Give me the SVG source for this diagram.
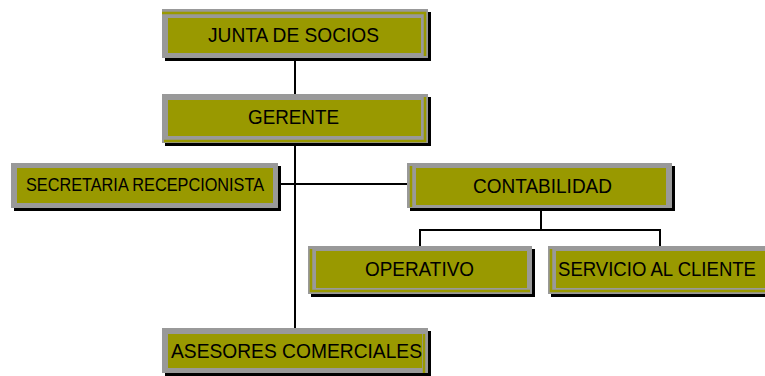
<svg xmlns="http://www.w3.org/2000/svg" width="765" height="376" viewBox="0 0 765 376">
<style>
.sh{fill:#000}
.g{fill:#999999}
.o{fill:#999900}
.ol{stroke:#999900;stroke-width:2.5;fill:none}
.t{font-family:"Liberation Sans",Arial,sans-serif;font-size:20px;fill:#000}
.c{stroke:#000;stroke-width:2;fill:none}
</style>
<rect width="765" height="376" fill="#fff"/>
<g id="connectors">
<line class="c" x1="295" y1="58" x2="295" y2="94"/>
<line class="c" x1="295" y1="143" x2="295" y2="328"/>
<line class="c" x1="280" y1="184" x2="407" y2="184"/>
<line class="c" x1="541" y1="211" x2="541" y2="230"/>
<line class="c" x1="420" y1="230" x2="660" y2="230"/>
<line class="c" x1="420" y1="229" x2="420" y2="246"/>
<line class="c" x1="660" y1="229" x2="660" y2="246"/>
</g>
<g id="junta">
<rect class="sh" x="165" y="12" width="266" height="49"/>
<rect class="g" x="162" y="9" width="266" height="49"/>
<polyline class="ol" points="162,13 425,13 425,56"/>
<rect class="o" x="168" y="18" width="253" height="35"/>
<text class="t" x="208" y="41.5" textLength="171" lengthAdjust="spacingAndGlyphs">JUNTA DE SOCIOS</text>
</g>
<g id="gerente">
<rect class="sh" x="165" y="97" width="266" height="49"/>
<rect class="g" x="162" y="94" width="266" height="49"/>
<polyline class="ol" points="425,97 425,141 164,141"/>
<rect class="o" x="168" y="100" width="253" height="36"/>
<text class="t" x="248" y="124" textLength="91" lengthAdjust="spacingAndGlyphs">GERENTE</text>
</g>
<g id="secretaria">
<rect class="sh" x="14" y="166" width="267" height="45"/>
<rect class="g" x="11" y="163" width="267" height="45"/>
<rect class="o" x="17" y="168" width="256" height="35"/>
<text class="t" x="26" y="190.5" style="font-size:19px" textLength="238" lengthAdjust="spacingAndGlyphs">SECRETARIA RECEPCIONISTA</text>
</g>
<g id="contabilidad">
<rect class="sh" x="410" y="166" width="265" height="45"/>
<rect class="g" x="407" y="163" width="265" height="45"/>
<polyline class="ol" points="411,166 411,207"/>
<rect class="o" x="416" y="168" width="250" height="37"/>
<text class="t" x="473" y="192.5" textLength="139" lengthAdjust="spacingAndGlyphs">CONTABILIDAD</text>
</g>
<g id="operativo">
<rect class="sh" x="311" y="249" width="224" height="48"/>
<rect class="g" x="308" y="246" width="224" height="48"/>
<polyline class="ol" points="311,249 311,291 530,291"/>
<rect class="o" x="316" y="251" width="211" height="37"/>
<text class="t" x="365" y="275.5" textLength="109" lengthAdjust="spacingAndGlyphs">OPERATIVO</text>
</g>
<g id="servicio">
<rect class="sh" x="551" y="249" width="224" height="48"/>
<rect class="g" x="548" y="246" width="224" height="48"/>
<polyline class="ol" points="551,249 551,291 770,291"/>
<rect class="o" x="556" y="251" width="211" height="37"/>
<text class="t" x="558" y="275.5" textLength="198" lengthAdjust="spacingAndGlyphs">SERVICIO AL CLIENTE</text>
</g>
<g id="asesores">
<rect class="sh" x="165" y="331" width="266" height="45"/>
<rect class="g" x="162" y="328" width="266" height="45"/>
<polyline class="ol" points="424,334 424,373"/>
<rect class="o" x="168" y="334" width="254" height="34"/>
<text class="t" x="171" y="358" textLength="251" lengthAdjust="spacingAndGlyphs">ASESORES  COMERCIALES</text>
</g>
</svg>
